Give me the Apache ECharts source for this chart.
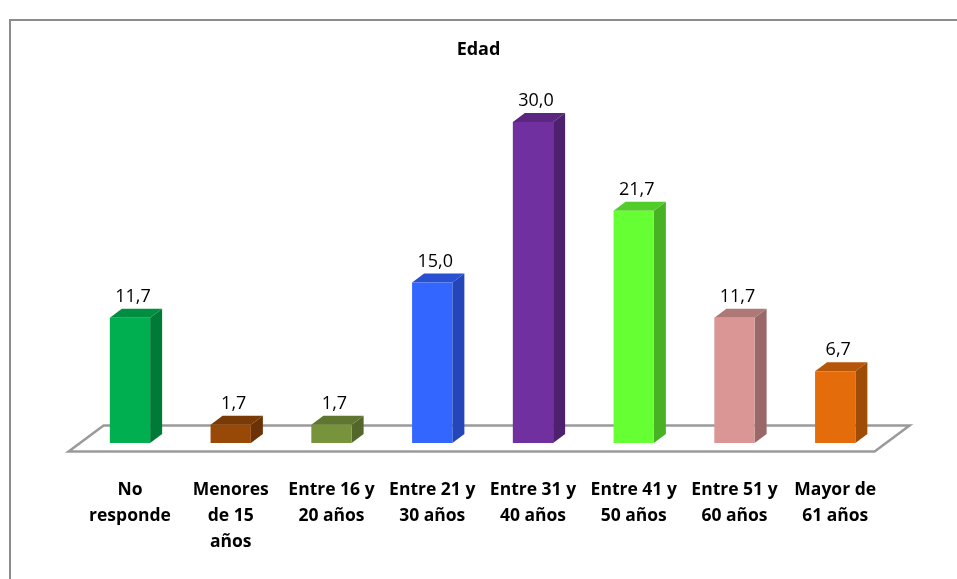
<!DOCTYPE html>
<html>
<head>
<meta charset="utf-8">
<script src="https://cdn.jsdelivr.net/npm/echarts@6/dist/echarts.min.js"></script>
<style>
  html, body { margin: 0; padding: 0; background: #ffffff; }
  #chart { width: 957px; height: 579px; }
</style>
</head>
<body>
<div id="chart"></div>
<script>
// Age groups and their share (%)
const categories = [
  'No\nresponde',
  'Menores\nde 15\naños',
  'Entre 16 y\n20 años',
  'Entre 21 y\n30 años',
  'Entre 31 y\n40 años',
  'Entre 41 y\n50 años',
  'Entre 51 y\n60 años',
  'Mayor de\n61 años'
];
const values = [11.7, 1.7, 1.7, 15.0, 30.0, 21.7, 11.7, 6.7];

// Face colours of each column: front, side, top
const frontColors = ['#00b050', '#984807', '#77933c', '#3366ff', '#7030a0', '#66ff33', '#d99694', '#e46c0a'];
const sideColors  = ['#007a37', '#6a3205', '#53672a', '#2346b8', '#4e216f', '#47b324', '#986968', '#9f4c07'];
const topColors   = ['#008f42', '#7a3a06', '#5f7630', '#2850d0', '#5a2680', '#52cc29', '#ae7876', '#b65608'];

const FONT = '"Open Sans", "Noto Sans", sans-serif';
const DX = 12, DY = -9;          // column depth offset
const BAR_RATIO = 0.4;           // column width relative to band

const chart = echarts.init(document.getElementById('chart'));

function fmt(v) { return v.toFixed(1).replace('.', ','); }

// Floor plate under the columns
function renderFloor(params, api) {
  const band = api.size([1, 0])[0];
  const first = api.coord([0, 0]);
  const last = api.coord([categories.length - 1, 0]);
  const xl = first[0] - band / 2, xr = last[0] + band / 2, y = first[1];
  const fx = -11, fy = 8.5, bx = 24, by = -17.5;
  return {
    type: 'polygon',
    shape: { points: [[xl + fx, y + fy], [xr + fx, y + fy], [xr + bx, y + by], [xl + bx, y + by]] },
    style: { fill: '#ffffff', stroke: '#9a9a9a', lineWidth: 2.5 }
  };
}

// 3D-looking column: front face, right side, top, value on top
function renderBar(params, api) {
  const i = api.value(0);
  const v = api.value(1);
  const base = api.coord([i, 0]);
  const top = api.coord([i, v]);
  const w = api.size([1, 0])[0] * BAR_RATIO;
  const x0 = base[0] - w / 2, x1 = base[0] + w / 2;
  const yb = base[1], yt = top[1];
  return {
    type: 'group',
    children: [
      {
        type: 'polygon',
        shape: { points: [[x1, yb], [x1 + DX, yb + DY], [x1 + DX, yt + DY], [x1, yt]] },
        style: { fill: sideColors[i] }
      },
      {
        type: 'polygon',
        shape: { points: [[x0, yt], [x1, yt], [x1 + DX, yt + DY], [x0 + DX, yt + DY]] },
        style: { fill: topColors[i] }
      },
      {
        type: 'rect',
        shape: { x: x0, y: yt, width: w, height: yb - yt },
        style: { fill: frontColors[i] }
      },
      {
        type: 'text',
        x: base[0] + 3,
        y: yt + DY - 3,
        style: {
          text: fmt(v),
          fill: '#000000',
          font: '18px ' + FONT,
          textAlign: 'center',
          textVerticalAlign: 'bottom'
        }
      }
    ]
  };
}

chart.setOption({
  animation: false,
  backgroundColor: '#ffffff',
  title: {
    text: 'Edad',
    left: 'center',
    top: 36,
    textStyle: { fontFamily: FONT, fontSize: 18, fontWeight: 'bold', color: '#000000' }
  },
  graphic: [
    {
      type: 'rect',
      shape: { x: 10, y: 20, width: 960, height: 580 },
      style: { fill: 'none', stroke: '#8c8c8c', lineWidth: 2 },
      z: -1
    }
  ],
  grid: { left: 79.6, right: 71.4, top: 122, bottom: 136 },
  xAxis: {
    type: 'category',
    data: categories,
    axisLine: { show: false },
    axisTick: { show: false },
    axisLabel: {
      interval: 0,
      margin: 34,
      fontFamily: FONT,
      fontSize: 17.5,
      fontWeight: 'bold',
      color: '#000000',
      lineHeight: 26,
      verticalAlign: 'top'
    }
  },
  yAxis: { type: 'value', min: 0, max: 30, show: false, splitLine: { show: false } },
  series: [
    {
      type: 'custom',
      renderItem: renderFloor,
      data: [[0, 0]],
      silent: true,
      z: 1
    },
    {
      type: 'custom',
      renderItem: renderBar,
      data: values.map((v, i) => [i, v]),
      z: 2
    }
  ]
});
</script>
</body>
</html>
